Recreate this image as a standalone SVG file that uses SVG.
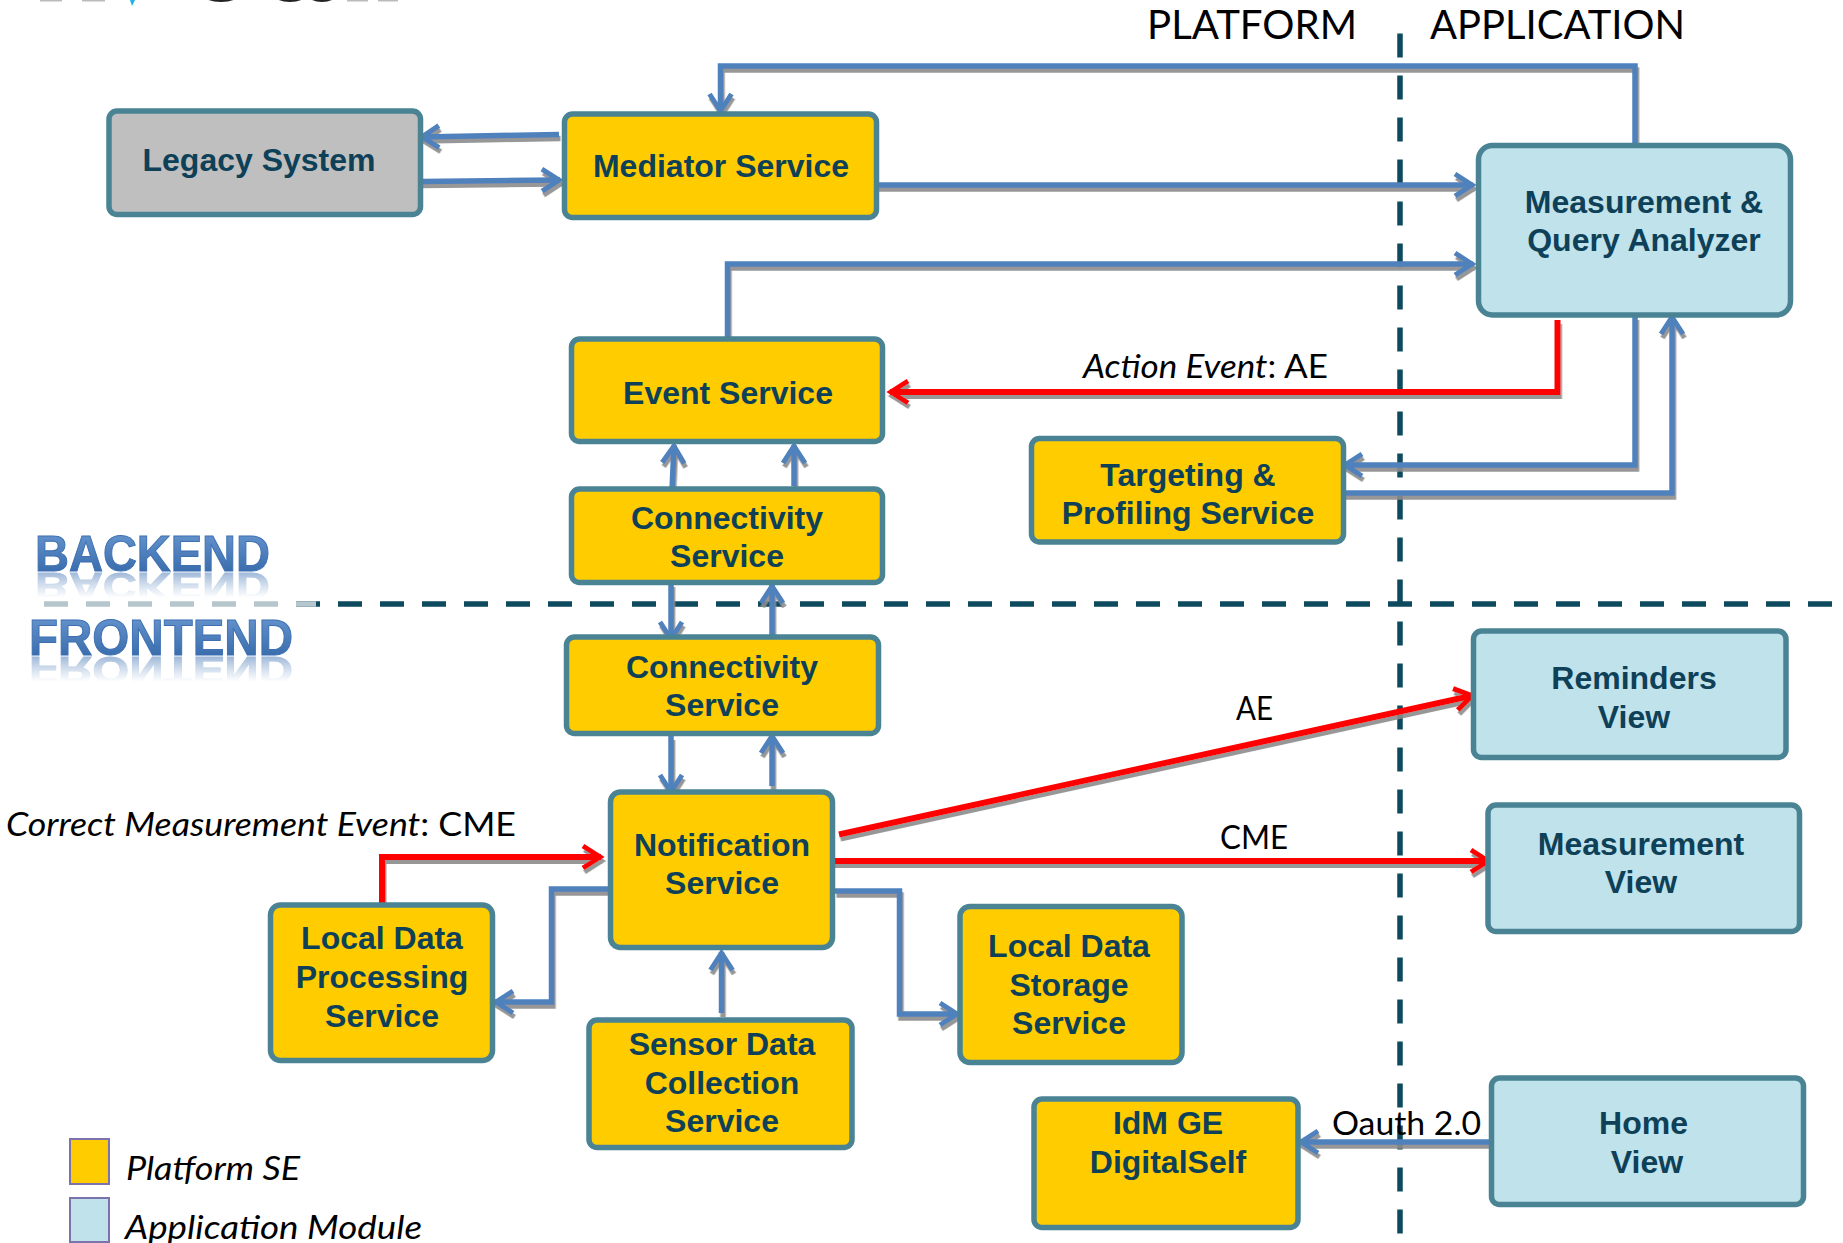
<svg xmlns="http://www.w3.org/2000/svg" width="1843" height="1243" viewBox="0 0 1843 1243">
<style>
.n{stroke:#4A8494;stroke-width:5.5}
.p{fill:#FFCC00}.a{fill:#BFE2EB}.g{fill:#BFBFBF}
.t{font:bold 32px "Liberation Sans",Arial,sans-serif;fill:#0E4058;text-anchor:middle}
.l{font-family:Lato,"Open Sans",sans-serif;font-size:33.5px;fill:#000}
.i{font-style:italic}
.w{font:bold 50px "Liberation Sans",Arial,sans-serif;fill:url(#wa);stroke:#3C70B2;stroke-width:1}
.b{fill:none;stroke:#4F81BD;stroke-width:5.5;marker-end:url(#ab)}
.r{fill:none;stroke:#FF0000;stroke-width:6;marker-end:url(#ar)}
.d{fill:none;stroke:#0E4A5E;stroke-width:5.5;stroke-dasharray:24 18}
.s{stroke:#7C72AC;stroke-width:2}
</style>
<defs>
<marker id="ab" markerUnits="userSpaceOnUse" markerWidth="30" markerHeight="30" refX="22" refY="15" orient="auto"><path d="M4,4L21,15L4,26" fill="none" stroke="#4F81BD" stroke-width="5"/></marker>
<marker id="ar" markerUnits="userSpaceOnUse" markerWidth="30" markerHeight="30" refX="22" refY="15" orient="auto"><path d="M4,4L21,15L4,26" fill="none" stroke="#FF0000" stroke-width="5"/></marker>
<filter id="sh" x="-5%" y="-5%" width="110%" height="110%"><feDropShadow dx="1.5" dy="4" stdDeviation="0.4" flood-color="#8C8C8C" flood-opacity="0.9"/></filter>
<linearGradient id="wa" x1="0" y1="0" x2="0" y2="1"><stop offset="0" stop-color="#6C9AD2"/><stop offset="1" stop-color="#2F63A5"/></linearGradient>
<linearGradient id="fade" x1="0" y1="0" x2="0" y2="1"><stop offset="0" stop-color="#fff" stop-opacity=".5"/><stop offset="1" stop-color="#fff" stop-opacity="0"/></linearGradient>
<mask id="m1" maskUnits="userSpaceOnUse" x="0" y="572" width="320" height="26"><rect x="0" y="572" width="320" height="26" fill="url(#fade)"/></mask>
<mask id="m2" maskUnits="userSpaceOnUse" x="0" y="656" width="320" height="26"><rect x="0" y="656" width="320" height="26" fill="url(#fade)"/></mask>
</defs>

<g id="logo-fragment">
<rect x="40" y="0" width="22" height="1.5" fill="#bbb"/><rect x="82" y="0" width="23" height="1.5" fill="#bbb"/>
<path d="M130,0L135,0L132,6Z" fill="#1CB4E6"/>
<ellipse cx="221" cy="-6" rx="19" ry="8" fill="#222"/><ellipse cx="290" cy="-6" rx="17" ry="8" fill="#222"/><ellipse cx="322" cy="-6" rx="15" ry="8" fill="#222"/>
<rect x="347" y="0" width="21" height="1.5" fill="#bbb"/><rect x="378" y="0" width="20" height="1.5" fill="#bbb"/>
</g>

<g id="layer-dividers">
<path class="d" d="M296,604H1843"/>
<path class="d" style="stroke:#B5C6CC" d="M44,604H316"/>
<path class="d" d="M1400,33.5V1234"/>
</g>

<g id="layer-labels">
<text id="backend" class="w" x="35" y="571" textLength="235" lengthAdjust="spacingAndGlyphs">BACKEND</text>
<g mask="url(#m1)"><use href="#backend" transform="matrix(1 0 0 -0.75 0 1001)"/></g>
<text id="frontend" class="w" x="29" y="655" textLength="264" lengthAdjust="spacingAndGlyphs">FRONTEND</text>
<g mask="url(#m2)"><use href="#frontend" transform="matrix(1 0 0 -0.75 0 1148)"/></g>
<text class="l" style="font-size:41px" x="1147" y="38.500" textLength="210" lengthAdjust="spacingAndGlyphs">PLATFORM</text>
<text class="l" style="font-size:41px" x="1430" y="39" textLength="255" lengthAdjust="spacingAndGlyphs">APPLICATION</text>
</g>

<g id="connectors" filter="url(#sh)">
<path class="b" d="M1635,143V66H720.500V112"/>
<path class="b" d="M877,185H1473"/>
<path class="b" d="M727.500,337V264H1473"/>
<path class="r" d="M1557.500,320V392H890"/>
<path class="b" d="M1635,316V465H1344"/>
<path class="b" d="M1340,493H1672V316"/>
<path class="b" d="M559,134.500L421,137"/>
<path class="b" d="M421,181.500L560,180"/>
<path class="b" d="M672,490L674,445"/>
<path class="b" d="M794,486V445"/>
<path class="b" d="M671,583V640"/>
<path class="b" d="M772,640V585"/>
<path class="b" d="M671,736V793"/>
<path class="b" d="M772,786V735"/>
<path class="r" d="M382,912V857H601"/>
<path class="b" d="M610,889H551.500V1002H495"/>
<path class="b" d="M835,891H899.500V1014H958"/>
<path class="b" d="M721.500,1013V952"/>
<path class="r" d="M839,834.500L1473,695.500"/>
<path class="r" d="M833,861H1489"/>
<path class="b" d="M1491,1142H1300"/>
</g>

<g id="legacy-system"><rect class="n g" x="109" y="111" width="311.500" height="103.500" rx="8"/><text class="t" x="259" y="171">Legacy System</text></g>
<g id="mediator-service"><rect class="n p" x="564.500" y="114" width="312" height="103.500" rx="8"/><text class="t" x="721" y="177">Mediator Service</text></g>
<g id="event-service"><rect class="n p" x="571.500" y="339" width="311" height="102.500" rx="8"/><text class="t" x="728" y="404">Event Service</text></g>
<g id="connectivity-backend"><rect class="n p" x="571.500" y="489" width="311" height="93.500" rx="8"/><text class="t"><tspan x="727" y="528.500">Connectivity</tspan><tspan x="727" y="566.500">Service</tspan></text></g>
<g id="connectivity-frontend"><rect class="n p" x="566.500" y="637" width="312" height="96.500" rx="8"/><text class="t"><tspan x="722" y="678">Connectivity</tspan><tspan x="722" y="715.500">Service</tspan></text></g>
<g id="notification-service"><rect class="n p" x="610.500" y="792" width="222" height="155.500" rx="10"/><text class="t"><tspan x="722" y="855.500">Notification</tspan><tspan x="722" y="893.500">Service</tspan></text></g>
<g id="local-data-processing"><rect class="n p" x="270.500" y="905" width="222" height="155.500" rx="10"/><text class="t"><tspan x="382" y="949">Local Data</tspan><tspan x="382" y="987.500">Processing</tspan><tspan x="382" y="1027">Service</tspan></text></g>
<g id="sensor-data-collection"><rect class="n p" x="589" y="1020" width="263" height="127.500" rx="8"/><text class="t"><tspan x="722" y="1055">Sensor Data</tspan><tspan x="722" y="1094">Collection</tspan><tspan x="722" y="1131.500">Service</tspan></text></g>
<g id="local-data-storage"><rect class="n p" x="960" y="906.500" width="222" height="156" rx="10"/><text class="t"><tspan x="1069" y="957">Local Data</tspan><tspan x="1069" y="996">Storage</tspan><tspan x="1069" y="1034">Service</tspan></text></g>
<g id="targeting-profiling"><rect class="n p" x="1031.500" y="438.500" width="312" height="103.500" rx="8"/><text class="t"><tspan x="1188" y="485.500">Targeting &amp;</tspan><tspan x="1188" y="524">Profiling Service</tspan></text></g>
<g id="idm-ge"><rect class="n p" x="1034" y="1099" width="264" height="128.500" rx="8"/><text class="t"><tspan x="1168" y="1133.500">IdM GE</tspan><tspan x="1168" y="1172.500">DigitalSelf</tspan></text></g>
<g id="measurement-query-analyzer"><rect class="n a" x="1478.500" y="145.500" width="312" height="169.500" rx="14"/><text class="t"><tspan x="1644" y="213">Measurement &amp;</tspan><tspan x="1644" y="251">Query Analyzer</tspan></text></g>
<g id="reminders-view"><rect class="n a" x="1473.500" y="631" width="312.500" height="126.500" rx="8"/><text class="t"><tspan x="1634" y="689">Reminders</tspan><tspan x="1634" y="727.500">View</tspan></text></g>
<g id="measurement-view"><rect class="n a" x="1488" y="805" width="311.500" height="126.500" rx="8"/><text class="t"><tspan x="1641" y="855">Measurement</tspan><tspan x="1641" y="893">View</tspan></text></g>
<g id="home-view"><rect class="n a" x="1491.500" y="1078" width="312" height="126.500" rx="8"/><text class="t"><tspan x="1643.500" y="1133.500">Home</tspan><tspan x="1647" y="1172.500">View</tspan></text></g>

<g id="connector-labels">
<text class="l" x="1083" y="378" textLength="245" lengthAdjust="spacingAndGlyphs"><tspan class="i">Action Event</tspan>: AE</text>
<text class="l" x="1236" y="720" textLength="37" lengthAdjust="spacingAndGlyphs">AE</text>
<text class="l" x="1220" y="849" textLength="68" lengthAdjust="spacingAndGlyphs">CME</text>
<text class="l" x="1332" y="1135" textLength="149" lengthAdjust="spacingAndGlyphs">Oauth 2.0</text>
<text class="l" x="6" y="835.500" textLength="510" lengthAdjust="spacingAndGlyphs"><tspan class="i">Correct Measurement Event</tspan>: CME</text>
</g>

<g id="legend">
<rect class="s p" x="70" y="1139" width="39" height="45"/>
<text class="l i" x="126" y="1180" textLength="174" lengthAdjust="spacingAndGlyphs">Platform SE</text>
<rect class="s a" x="70" y="1198" width="39" height="44"/>
<text class="l i" x="125" y="1238.500" textLength="297" lengthAdjust="spacingAndGlyphs">Application Module</text>
</g>
</svg>
